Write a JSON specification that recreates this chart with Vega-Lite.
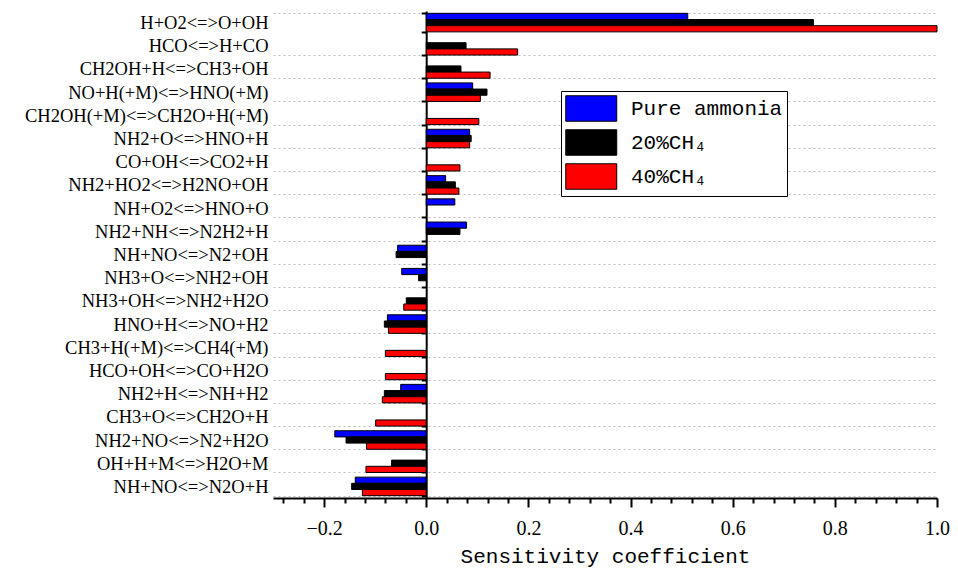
{
  "$schema": "https://vega.github.io/schema/vega-lite/v6.json",
  "width": 664,
  "height": 487,
  "autosize": "none",
  "padding": {"left": 273, "top": 11, "right": 21, "bottom": 79},
  "background": "white",
  "config": {"view": {"stroke": null}, "font": "Liberation Serif"},
  "data": {
    "values": [
      {"reaction": "H+O2<=>O+OH", "series": "Pure ammonia", "value": 0.512},
      {"reaction": "H+O2<=>O+OH", "series": "20%CH₄", "value": 0.758},
      {"reaction": "H+O2<=>O+OH", "series": "40%CH₄", "value": 1.0},
      {"reaction": "HCO<=>H+CO", "series": "20%CH₄", "value": 0.078},
      {"reaction": "HCO<=>H+CO", "series": "40%CH₄", "value": 0.179},
      {"reaction": "CH2OH+H<=>CH3+OH", "series": "20%CH₄", "value": 0.068},
      {"reaction": "CH2OH+H<=>CH3+OH", "series": "40%CH₄", "value": 0.125},
      {"reaction": "NO+H(+M)<=>HNO(+M)", "series": "Pure ammonia", "value": 0.091},
      {"reaction": "NO+H(+M)<=>HNO(+M)", "series": "20%CH₄", "value": 0.119},
      {"reaction": "NO+H(+M)<=>HNO(+M)", "series": "40%CH₄", "value": 0.106},
      {"reaction": "CH2OH(+M)<=>CH2O+H(+M)", "series": "40%CH₄", "value": 0.103},
      {"reaction": "NH2+O<=>HNO+H", "series": "Pure ammonia", "value": 0.085},
      {"reaction": "NH2+O<=>HNO+H", "series": "20%CH₄", "value": 0.088},
      {"reaction": "NH2+O<=>HNO+H", "series": "40%CH₄", "value": 0.085},
      {"reaction": "CO+OH<=>CO2+H", "series": "40%CH₄", "value": 0.066},
      {"reaction": "NH2+HO2<=>H2NO+OH", "series": "Pure ammonia", "value": 0.038},
      {"reaction": "NH2+HO2<=>H2NO+OH", "series": "20%CH₄", "value": 0.057},
      {"reaction": "NH2+HO2<=>H2NO+OH", "series": "40%CH₄", "value": 0.064},
      {"reaction": "NH+O2<=>HNO+O", "series": "Pure ammonia", "value": 0.056},
      {"reaction": "NH2+NH<=>N2H2+H", "series": "Pure ammonia", "value": 0.079},
      {"reaction": "NH2+NH<=>N2H2+H", "series": "20%CH₄", "value": 0.066},
      {"reaction": "NH+NO<=>N2+OH", "series": "Pure ammonia", "value": -0.056},
      {"reaction": "NH+NO<=>N2+OH", "series": "20%CH₄", "value": -0.059},
      {"reaction": "NH3+O<=>NH2+OH", "series": "Pure ammonia", "value": -0.048},
      {"reaction": "NH3+O<=>NH2+OH", "series": "20%CH₄", "value": -0.015},
      {"reaction": "NH3+OH<=>NH2+H2O", "series": "20%CH₄", "value": -0.039},
      {"reaction": "NH3+OH<=>NH2+H2O", "series": "40%CH₄", "value": -0.044},
      {"reaction": "HNO+H<=>NO+H2", "series": "Pure ammonia", "value": -0.076},
      {"reaction": "HNO+H<=>NO+H2", "series": "20%CH₄", "value": -0.082},
      {"reaction": "HNO+H<=>NO+H2", "series": "40%CH₄", "value": -0.074},
      {"reaction": "CH3+H(+M)<=>CH4(+M)", "series": "40%CH₄", "value": -0.080},
      {"reaction": "HCO+OH<=>CO+H2O", "series": "40%CH₄", "value": -0.080},
      {"reaction": "NH2+H<=>NH+H2", "series": "Pure ammonia", "value": -0.050},
      {"reaction": "NH2+H<=>NH+H2", "series": "20%CH₄", "value": -0.082},
      {"reaction": "NH2+H<=>NH+H2", "series": "40%CH₄", "value": -0.086},
      {"reaction": "CH3+O<=>CH2O+H", "series": "40%CH₄", "value": -0.099},
      {"reaction": "NH2+NO<=>N2+H2O", "series": "Pure ammonia", "value": -0.179},
      {"reaction": "NH2+NO<=>N2+H2O", "series": "20%CH₄", "value": -0.157},
      {"reaction": "NH2+NO<=>N2+H2O", "series": "40%CH₄", "value": -0.117},
      {"reaction": "OH+H+M<=>H2O+M", "series": "20%CH₄", "value": -0.068},
      {"reaction": "OH+H+M<=>H2O+M", "series": "40%CH₄", "value": -0.118},
      {"reaction": "NH+NO<=>N2O+H", "series": "Pure ammonia", "value": -0.139},
      {"reaction": "NH+NO<=>N2O+H", "series": "20%CH₄", "value": -0.146},
      {"reaction": "NH+NO<=>N2O+H", "series": "40%CH₄", "value": -0.125}
    ]
  },
  "resolve": {"axis": {"y": "independent"}},
  "layer": [
    {
      "mark": {"type": "bar", "stroke": "#000000", "strokeWidth": 1},
      "encoding": {
        "y": {
          "field": "reaction",
          "type": "nominal",
          "sort": null,
          "scale": {"paddingInner": 0.2, "paddingOuter": 0.1},
          "axis": {
            "title": null,
            "orient": "left",
            "domain": false,
            "ticks": false,
            "tickSize": 0,
            "labelPadding": 5,
            "labelFontSize": 18.5,
            "labelColor": "#000000",
            "labelLimit": 400,
            "grid": true,
            "tickBand": "extent",
            "gridColor": "#bdbdbd",
            "gridDash": [2, 3],
            "gridWidth": 1,
            "gridOpacity": {"condition": {"test": "datum.value === 'H+O2<=>O+OH'", "value": 0}, "value": 1}
          }
        },
        "yOffset": {
          "field": "series",
          "type": "nominal",
          "sort": ["Pure ammonia", "20%CH₄", "40%CH₄"],
          "scale": {"domain": ["Pure ammonia", "20%CH₄", "40%CH₄"], "paddingInner": 0, "paddingOuter": 0}
        },
        "x": {
          "field": "value",
          "type": "quantitative",
          "scale": {"domain": [-0.3, 1.0], "nice": false, "zero": false},
          "axis": {
            "title": "Sensitivity coefficient",
            "values": [-0.28, -0.24, -0.2, -0.16, -0.12, -0.08, -0.04, 0, 0.04, 0.08, 0.12, 0.16, 0.2, 0.24, 0.28, 0.32, 0.36, 0.4, 0.44, 0.48, 0.52, 0.56, 0.6, 0.64, 0.68, 0.72, 0.76, 0.8, 0.84, 0.88, 0.92, 0.96, 1.0],
            "grid": false,
            "domainColor": "#000000",
            "domainWidth": 2,
            "tickColor": "#000000",
            "tickWidth": 2,
            "tickSize": {"condition": {"test": "abs(round(datum.value*100)) % 20 == 0", "value": 9}, "value": 5},
            "labelExpr": "abs(round(datum.value*100)) % 20 == 0 ? format(datum.value, '.1f') : ''",
            "labelOverlap": false,
            "labelFlush": false,
            "labelFontSize": 20,
            "labelColor": "#000000",
            "labelPadding": 11,
            "titleFont": "Liberation Mono",
            "titleFontSize": 21,
            "titleFontWeight": "normal",
            "titleColor": "#000000",
            "titlePadding": 7
          }
        },
        "color": {
          "field": "series",
          "type": "nominal",
          "sort": ["Pure ammonia", "20%CH₄", "40%CH₄"],
          "scale": {"domain": ["Pure ammonia", "20%CH₄", "40%CH₄"], "range": ["#0000ff", "#000000", "#ff0000"]},
          "legend": {
            "orient": "none",
            "legendX": 288,
            "legendY": 80,
            "title": null,
            "strokeColor": "#000000",
            "fillColor": "#ffffff",
            "padding": 4,
            "symbolType": "M-1,-1H3V1H-1Z",
            "symbolSize": 650,
            "symbolStrokeColor": "#000000",
            "symbolStrokeWidth": 1,
            "symbolOpacity": 1,
            "labelFont": "Liberation Mono",
            "labelFontSize": 21,
            "labelColor": "#000000",
            "labelOffset": 39,
            "rowPadding": 3
          }
        }
      }
    },
    {
      "mark": {"type": "bar", "opacity": 0},
      "encoding": {
        "y": {
          "field": "reaction",
          "type": "nominal",
          "sort": null,
          "axis": {
            "title": null,
            "orient": "left",
            "offset": -153.2,
            "labels": false,
            "grid": false,
            "domain": true,
            "domainColor": "#000000",
            "domainWidth": 2,
            "ticks": true,
            "tickBand": "extent",
            "tickSize": 5,
            "tickWidth": 2,
            "tickColor": "#000000"
          }
        }
      }
    }
  ]
}
